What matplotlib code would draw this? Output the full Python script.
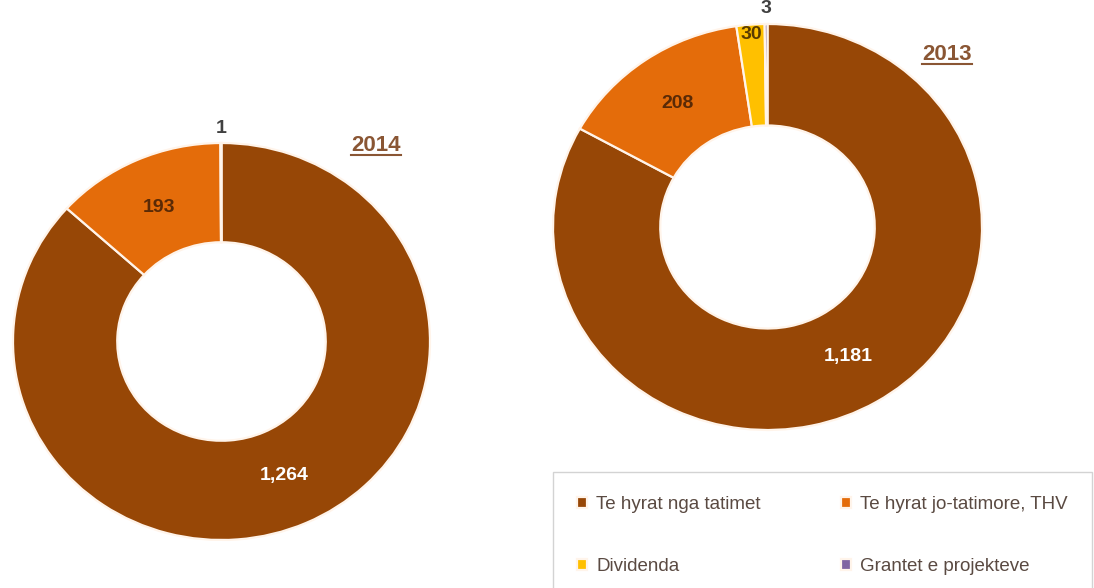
import matplotlib
matplotlib.use("Agg")
from matplotlib import pyplot as plt
from matplotlib.lines import Line2D
import numpy as np

plt.rcParams['font.family'] = ['Liberation Sans', 'DejaVu Sans']

categories = ["Te hyrat nga tatimet", "Te hyrat jo-tatimore, THV",
              "Dividenda", "Grantet e projekteve"]
values_2014 = [1264, 193, 0, 1]
values_2013 = [1181, 208, 30, 3]
colors = ["#974706", "#E46C0A", "#FFC000", "#8064A2"]
label_colors = ["white", "#5a2a06", "#5a3c00", "#404040"]

W, H = 1094, 588
fig = plt.figure(figsize=(W / 100, H / 100), dpi=100)


def px_axes(x0, y0, x1, y1):
    # pixel box (top-left origin) -> figure axes
    return fig.add_axes([x0 / W, 1 - y1 / H, (x1 - x0) / W, (y1 - y0) / H])


def donut(ax, vals, year, title_xy):
    wedges, _ = ax.pie(vals, colors=colors, startangle=90, counterclock=False,
                       radius=1, wedgeprops=dict(width=0.5, edgecolor="#fff4ea", linewidth=1.6))
    ax.set_xlim(-1, 1)
    ax.set_ylim(-1, 1)
    ax.set_aspect('auto')
    ax.axis('off')
    total = float(sum(vals))
    for w, v, lc in zip(wedges, vals, label_colors):
        if v == 0:
            continue
        frac = v / total
        if frac < 0.005:
            r = 1.075
        elif frac < 0.05:
            r = 0.95
        else:
            r = 0.74
        mid = np.deg2rad((w.theta1 + w.theta2) / 2)
        ax.text(r * np.cos(mid), r * np.sin(mid), f"{v:,}", ha='center', va='center',
                fontsize=14, fontweight='bold', color=lc, clip_on=False)
    t = fig.text(title_xy[0] / W, 1 - title_xy[1] / H, year, ha='center', va='center',
                 fontsize=16, fontweight='bold', color='#8a5634')
    return wedges, t


ax1 = px_axes(13, 143, 430, 540)
w14, t14 = donut(ax1, values_2014, "2014", (376, 146))
ax2 = px_axes(553, 24, 982, 430)
w13, t13 = donut(ax2, values_2013, "2013", (947, 55))

# underline titles
fig.canvas.draw()
rend = fig.canvas.get_renderer()
for t in (t14, t13):
    bb = t.get_window_extent(rend).transformed(fig.transFigure.inverted())
    yl = bb.y0 + 1.5 / H
    fig.add_artist(Line2D([bb.x0, bb.x1], [yl, yl], color='#8a5634', lw=1.5,
                          transform=fig.transFigure))

# row-wise order in a 2-column legend
order = [0, 2, 1, 3]
leg = fig.legend([w13[i] for i in order], [categories[i] for i in order],
                 loc='upper left', bbox_to_anchor=(553 / W, 1 - 472 / H),
                 borderaxespad=0, ncol=2,
                 fontsize=13.5, frameon=True, fancybox=False,
                 edgecolor='#c8c8c8', handlelength=0.5, handleheight=0.5,
                 handletextpad=0.5, columnspacing=4.3, labelspacing=2.4,
                 borderpad=1.3)
leg.get_frame().set_linewidth(1.0)
for txt in leg.get_texts():
    txt.set_color('#5a4a42')

fig.savefig("out.png", dpi=100)
